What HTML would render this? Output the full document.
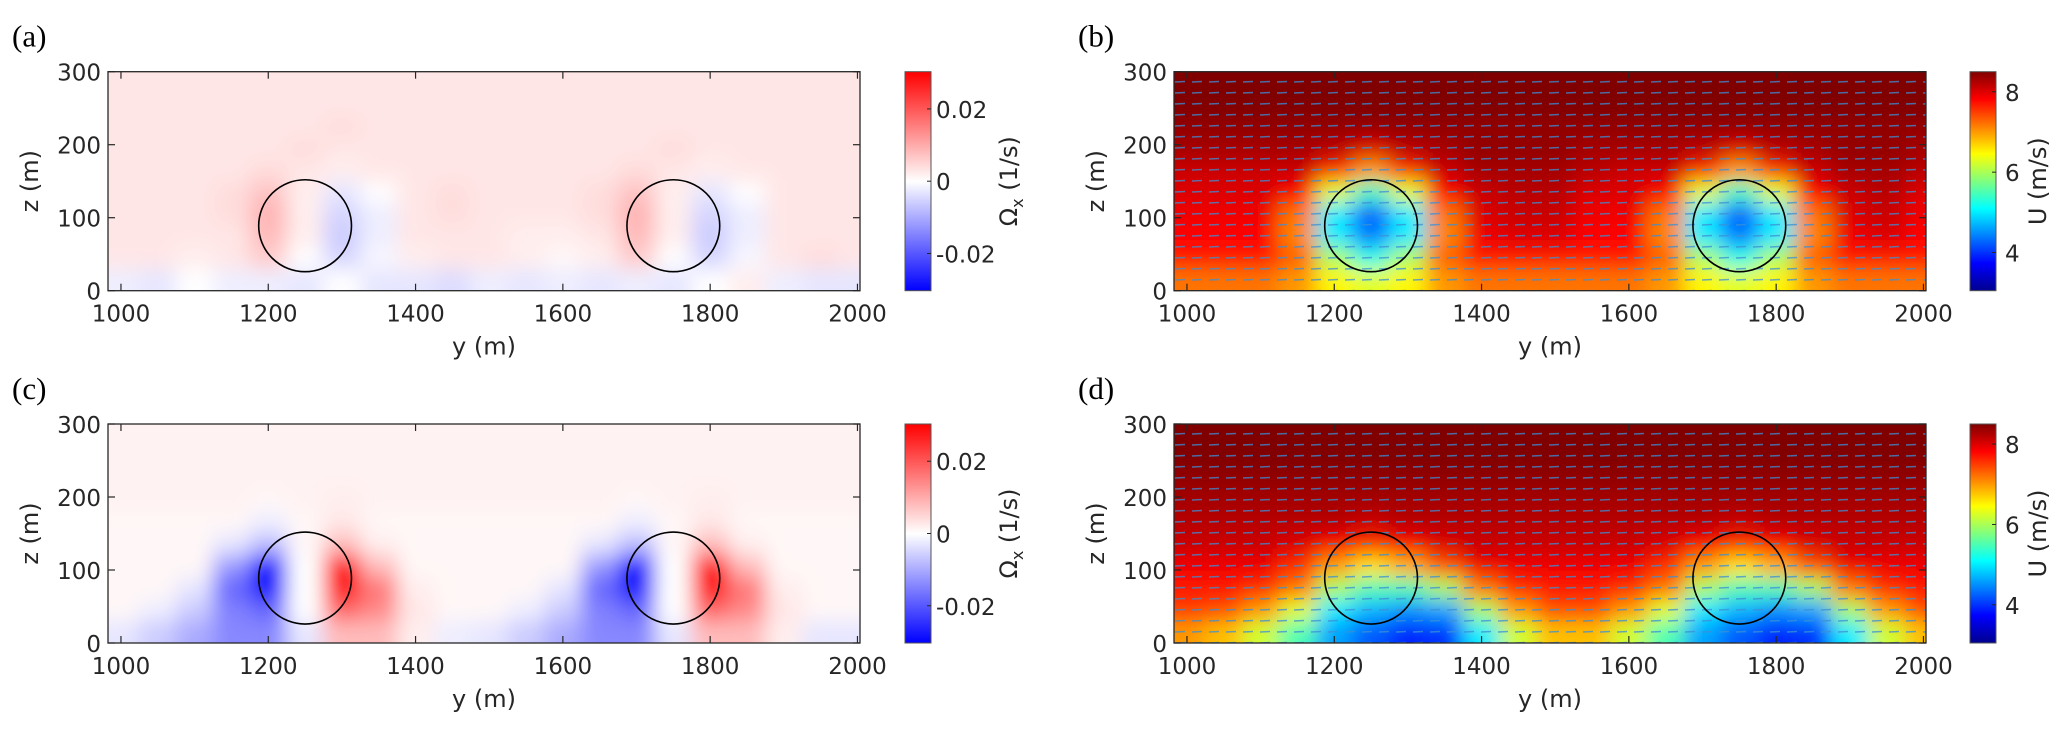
<!DOCTYPE html>
<html><head><meta charset="utf-8">
<style>
html,body{margin:0;padding:0;background:#fff;}
svg{display:block;}
text{font-family:"DejaVu Sans","Liberation Sans",sans-serif;fill:#262626;}
.pl{font-family:"Liberation Serif",serif;fill:#000;}
</style></head>
<body>
<svg id="fig" width="2067" height="733" viewBox="0 0 2067 733" xmlns="http://www.w3.org/2000/svg">
<defs>
<filter id="blur" x="-5%" y="-5%" width="110%" height="110%"><feGaussianBlur stdDeviation="10"/></filter>
<linearGradient id="gbwr" x1="0" y1="1" x2="0" y2="0">
<stop offset="0" stop-color="#0000ff"/><stop offset="0.5" stop-color="#ffffff"/><stop offset="1" stop-color="#ff0000"/>
</linearGradient>
<linearGradient id="gjet" x1="0" y1="1" x2="0" y2="0">
<stop offset="0" stop-color="#00008f"/><stop offset="0.125" stop-color="#0000ff"/><stop offset="0.375" stop-color="#00ffff"/><stop offset="0.625" stop-color="#ffff00"/><stop offset="0.875" stop-color="#ff0000"/><stop offset="1" stop-color="#800000"/>
</linearGradient>
<pattern id="quiv" width="17" height="11" patternUnits="userSpaceOnUse">
<line x1="2" y1="5" x2="12" y2="4.5" stroke="#3a8fd6" stroke-width="1.6"/>
</pattern>
</defs>
</svg>
<script>
// ---- data ----
const yCols = [1000,1050,1100,1150,1200,1250,1300,1350,1400,1450,1500,1550,1600,1650,1700,1750,1800,1850,1900,1950,2000];
const zRows = [285,255,225,195,165,135,105,75,45,15];
const xTicks = [1000,1200,1400,1600,1800,2000];
const zTicks = [0,100,200,300];
const turbineY = [1250,1750];
const turbineZ = 89;
const turbineR = 63;
const vortTicks = [0.02,0,-0.02];
const vortTickLabels = ["0.02","0","-0.02"];
const uTicks = [8,6,4];
const uTickLabels = ["8","6","4"];
// vorticity (x1e-3 1/s), panel a
const vortA = [
[3,3,3,3,3,3,3,3,3,3,3,3,3,3,3,3,3,3,3,3,3],
[3,3,3,3,3,3,3,3,3,3,3,3,3,3,3,3,3,3,3,3,3],
[3,3,3,3,3,3,4,3,3,3,3,3,3,3,3,3,3,3,3,3,3],
[3,3,3,3,3,4,3,3,3,3,3,3,3,3,3,4,3,3,3,3,3],
[3,3,3,3,4,3,2,3,3,3,3,3,3,3,4,3,2,3,3,3,3],
[3,3,3,4,7,2,-3,0,3,4,3,3,3,4,7,2,-3,0,3,3,3],
[3,3,3,4,9,2,-5,-2,3,4,3,3,3,4,9,2,-5,-2,3,3,3],
[3,3,3,3,8,2,-6,-2,3,3,3,2,2,3,8,2,-6,-2,3,3,3],
[3,3,2,3,6,0,-5,-1,2,3,3,2,1,2,6,0,-5,-1,3,4,3],
[-2,-3,0,-2,-2,-3,0,-3,-3,-4,-2,-3,-2,-3,-2,-3,0,2,-2,-3,-3]];
// panel c
const vortC = [
[1.5,1.5,1.5,1.5,1.5,1.5,1.5,1.5,1.5,1.5,1.5,1.5,1.5,1.5,1.5,1.5,1.5,1.5,1.5,1.5,1.5],
[1.5,1.5,1.5,1.5,1.5,1.5,1.5,1.5,1.5,1.5,1.5,1.5,1.5,1.5,1.5,1.5,1.5,1.5,1.5,1.5,1.5],
[1.5,1.5,1.5,1.5,1.5,1.5,1.5,1.5,1.5,1.5,1.5,1.5,1.5,1.5,1.5,1.5,1.5,1.5,1.5,1.5,1.5],
[1.5,1.5,1.5,1.5,1,1.5,2,1.5,1.5,1.5,1.5,1.5,1.5,1.5,1,1.5,2,1.5,1.5,1.5,1.5],
[1,1,1,1,-2,1,3,1,1,1,1,1,1,1,-2,1,3,1,1,1,1],
[1,1,1,-3,-8,1,8,2,1,1,1,1,1,-3,-8,1,8,2,1,1,1],
[1,1,1,-12,-30,0,30,8,1,1,1,1,1,-12,-30,0,30,8,1,1,1],
[1,1,-3,-18,-30,0,30,16,2,1,1,1,-3,-18,-30,0,30,16,2,1,1],
[1,-2,-6,-15,-18,0,18,14,3,1,1,-2,-6,-15,-18,0,18,14,3,1,1],
[-3,-6,-10,-14,-14,-3,8,8,2,-2,-3,-6,-10,-14,-14,-3,8,8,2,-3,-3]];
// streamwise velocity U (m/s), panel b
const velB = [
[8.5,8.5,8.5,8.5,8.5,8.5,8.5,8.5,8.5,8.5,8.5,8.5,8.5,8.5,8.5,8.5,8.5,8.5,8.5,8.5,8.5],
[8.5,8.5,8.5,8.5,8.5,8.5,8.5,8.5,8.5,8.5,8.5,8.5,8.5,8.5,8.5,8.5,8.5,8.5,8.5,8.5,8.5],
[8.4,8.4,8.4,8.4,8.4,8.4,8.4,8.4,8.4,8.4,8.4,8.4,8.4,8.4,8.4,8.4,8.4,8.4,8.4,8.4,8.4],
[8.3,8.3,8.3,8.3,8.2,8.0,8.2,8.3,8.4,8.4,8.4,8.3,8.3,8.3,8.2,8.0,8.2,8.3,8.4,8.4,8.3],
[8.1,8.1,8.1,8.1,7.6,7.0,7.6,8.1,8.3,8.3,8.3,8.2,8.1,8.1,7.6,7.0,7.6,8.1,8.3,8.3,8.2],
[8.0,8.0,8.0,7.8,6.3,5.4,6.3,7.8,8.1,8.2,8.2,8.0,8.0,7.8,6.3,5.4,6.3,7.8,8.1,8.2,8.0],
[7.9,7.9,7.9,7.2,5.0,4.2,5.0,7.2,8.0,8.1,8.1,7.9,7.9,7.2,5.0,4.2,5.0,7.2,8.0,8.1,7.9],
[7.8,7.8,7.8,7.1,5.0,4.4,5.0,7.1,7.9,8.0,8.0,7.8,7.8,7.1,5.0,4.4,5.0,7.1,7.9,8.0,7.8],
[7.7,7.7,7.7,7.3,6.0,5.2,6.0,7.3,7.7,7.7,7.7,7.7,7.7,7.3,6.0,5.2,6.0,7.3,7.7,7.7,7.7],
[7.2,7.2,7.2,7.0,6.5,6.3,6.5,7.0,7.2,7.2,7.2,7.2,7.2,7.0,6.5,6.3,6.5,7.0,7.2,7.2,7.2]];
// panel d
const velD = [
[8.5,8.5,8.5,8.5,8.5,8.5,8.5,8.5,8.5,8.5,8.5,8.5,8.5,8.5,8.5,8.5,8.5,8.5,8.5,8.5,8.5],
[8.5,8.5,8.5,8.5,8.5,8.5,8.5,8.5,8.5,8.5,8.5,8.5,8.5,8.5,8.5,8.5,8.5,8.5,8.5,8.5,8.5],
[8.4,8.4,8.4,8.4,8.4,8.4,8.4,8.4,8.4,8.4,8.4,8.4,8.4,8.4,8.4,8.4,8.4,8.4,8.4,8.4,8.4],
[8.3,8.3,8.3,8.3,8.3,8.3,8.3,8.3,8.3,8.3,8.3,8.3,8.3,8.3,8.3,8.3,8.3,8.3,8.3,8.3,8.3],
[8.2,8.2,8.2,8.2,8.2,8.1,8.2,8.2,8.2,8.2,8.2,8.2,8.2,8.2,8.2,8.1,8.2,8.2,8.2,8.2,8.2],
[8.1,8.1,8.1,8.0,7.8,7.6,7.8,8.0,8.1,8.1,8.1,8.1,8.1,8.0,7.8,7.6,7.8,8.0,8.1,8.1,8.1],
[7.9,7.9,7.9,7.6,7.0,6.6,6.9,7.4,7.9,7.9,7.9,7.9,7.9,7.6,7.0,6.6,6.9,7.4,7.9,7.9,7.9],
[7.7,7.7,7.6,7.2,6.0,5.5,5.5,6.0,7.2,7.6,7.7,7.7,7.6,7.2,6.0,5.5,5.5,6.0,7.2,7.6,7.7],
[7.5,7.4,7.0,6.3,5.0,4.7,4.5,4.6,6.0,7.0,7.4,7.4,7.0,6.3,5.0,4.7,4.5,4.6,6.0,7.0,7.4],
[7.0,6.8,6.2,5.5,4.6,4.2,3.9,4.0,5.0,6.2,6.8,6.8,6.2,5.5,4.6,4.2,3.9,4.0,5.0,6.2,6.8]];

const NS = "http://www.w3.org/2000/svg";
const svg = document.getElementById('fig');
function mk(tag, attrs, parent){ const e=document.createElementNS(NS,tag); for(const k in attrs) e.setAttribute(k,attrs[k]); (parent||svg).appendChild(e); return e; }

function bwr(v){ let t=Math.max(-1,Math.min(1,v/30)); if(t>=0){const c=Math.round(255*(1-t)); return `rgb(255,${c},${c})`;} const c=Math.round(255*(1+t)); return `rgb(${c},${c},255)`; }
function jet(u){ let t=(u-3.05)/(8.5-3.05); t=Math.max(0,Math.min(1,t));
  const st=[[0,0,0,143],[0.125,0,0,255],[0.375,0,255,255],[0.625,255,255,0],[0.875,255,0,0],[1,128,0,0]];
  for(let i=1;i<st.length;i++){ if(t<=st[i][0]){const a=st[i-1],b=st[i],f=(t-a[0])/(b[0]-a[0]); return `rgb(${Math.round(a[1]+f*(b[1]-a[1]))},${Math.round(a[2]+f*(b[2]-a[2]))},${Math.round(a[3]+f*(b[3]-a[3]))})`;}}
  return 'rgb(128,0,0)'; }

function panel(opt){
  const L=opt.left, B=opt.bottom, W=752, H=219;
  const X = y => L + (y-982.4)*0.7365;
  const Z = z => B - z*(H/300);
  const g = mk('g',{});
  
  
  const cid='clip'+opt.id;
  const cp=mk('clipPath',{id:cid},g); mk('rect',{x:L,y:B-H,width:W,height:H},cp);
  const cg=mk('g',{'clip-path':`url(#${cid})`},g);
  const hm=mk('g',{filter:'url(#blur)'},cg);
  
  
  const dy=50*0.7365, dz=30*(H/300);
  opt.data.forEach((row,ri)=>{ row.forEach((v,ci)=>{
    let x0=X(yCols[ci])-dy/2, x1=X(yCols[ci])+dy/2, y0=Z(zRows[ri])-dz/2, y1=Z(zRows[ri])+dz/2;
    if(ci===0) x0-=40; if(ci===row.length-1) x1+=40; if(ri===0) y0-=40; if(ri===opt.data.length-1) y1+=40;
    const r=mk('rect',{x:x0,y:y0,width:x1-x0+0.6,height:y1-y0+0.6,fill:opt.cmap(v)},hm);
    
    
  });});
  if(opt.quiver){ const q=mk('rect',{x:L,y:B-H,width:W,height:H,fill:'url(#quiv)',opacity:0.75},cg);
      }
  turbineY.forEach(ty=>{ const c=mk('ellipse',{cx:X(ty),cy:Z(turbineZ),rx:turbineR*0.7365,ry:turbineR*(H/300),fill:'none',stroke:'#000','stroke-width':1.6},g);
      });
  const box=mk('rect',{x:L,y:B-H,width:W,height:H,fill:'none',stroke:'#262626','stroke-width':1.3},g);
   
  xTicks.forEach(t=>{ const x=X(t);
    mk('line',{x1:x,y1:B,x2:x,y2:B-7,stroke:'#262626','stroke-width':1.2},g);
    mk('line',{x1:x,y1:B-H,x2:x,y2:B-H+7,stroke:'#262626','stroke-width':1.2},g);
    const tx=mk('text',{x:x,y:B+31,'font-size':23,'text-anchor':'middle'},g); tx.textContent=t;
      });
  zTicks.forEach(t=>{ const y=Z(t);
    mk('line',{x1:L,y1:y,x2:L+7,y2:y,stroke:'#262626','stroke-width':1.2},g);
    mk('line',{x1:L+W,y1:y,x2:L+W-7,y2:y,stroke:'#262626','stroke-width':1.2},g);
    const tx=mk('text',{x:L-7,y:y+9,'font-size':23,'text-anchor':'end'},g); tx.textContent=t;
      });
  const xl=mk('text',{x:L+W/2,y:B+64,'font-size':24,'text-anchor':'middle'},g); xl.textContent='y (m)';
   
  const yl=mk('text',{x:0,y:0,'font-size':24,'text-anchor':'middle',transform:`translate(${L-70},${B-H/2}) rotate(-90)`},g); yl.textContent='z (m)';
   
  const pl=mk('text',{x:L-96,y:B-H-25,'font-size':31,class:'pl'},g); pl.textContent=opt.label;
   
  // colorbar
  const cx=L+W+(opt.quiver?44:45), cw=26;
  const cb=mk('rect',{x:cx,y:B-H,width:cw,height:H,fill:opt.quiver?'url(#gjet)':'url(#gbwr)',stroke:'#555','stroke-width':1},g);
   
  const ticks=opt.quiver?uTicks:vortTicks, labs=opt.quiver?uTickLabels:vortTickLabels;
  const cmin=opt.quiver?3.05:-0.0303, cmax=opt.quiver?8.5:0.0303;
  ticks.forEach((t,i)=>{ const y=B-(t-cmin)/(cmax-cmin)*H;
    mk('line',{x1:cx+cw,y1:y,x2:cx+cw-4,y2:y,stroke:'#262626','stroke-width':1},g);
    const tx=mk('text',{x:cx+cw+(opt.quiver?9:5),y:y+9,'font-size':23},g); tx.textContent=labs[i];
      });
  const ct=mk('text',{x:0,y:0,'font-size':24,'text-anchor':'middle',transform:`translate(${opt.quiver?cx+76:cx+112},${B-H/2}) rotate(-90)`},g);
  if(opt.quiver){ ct.textContent='U (m/s)'; }
  else { ct.appendChild(document.createTextNode('Ω'));
    const s=mk('tspan',{'font-size':16,dy:6},ct); s.textContent='x';
    const s2=mk('tspan',{dy:-6},ct); s2.textContent=' (1/s)'; }
   
}
panel({id:'a',name:'panel-a-vorticity',label:'(a)',left:108,bottom:290.7,data:vortA,cmap:bwr,quiver:false});
panel({id:'b',name:'panel-b-velocity',label:'(b)',left:1174,bottom:290.7,data:velB,cmap:jet,quiver:true});
panel({id:'c',name:'panel-c-vorticity',label:'(c)',left:108,bottom:643,data:vortC,cmap:bwr,quiver:false});
panel({id:'d',name:'panel-d-velocity',label:'(d)',left:1174,bottom:643,data:velD,cmap:jet,quiver:true});
</script>
</body></html>
